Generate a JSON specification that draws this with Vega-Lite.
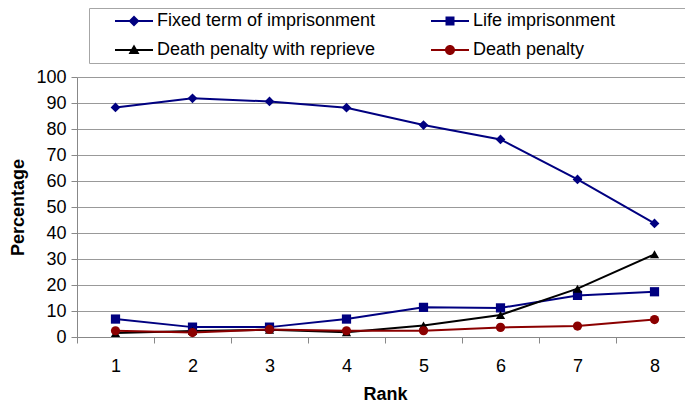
{
  "$schema": "https://vega.github.io/schema/vega-lite/v6.json",
  "width": 608,
  "height": 260,
  "autosize": {"type": "none"},
  "padding": {"left": 77, "top": 77, "right": 0, "bottom": 70},
  "background": "white",
  "config": {"font": "Liberation Sans", "view": {"stroke": null}},
  "data": {"values": [
    {"series": "Fixed term of imprisonment", "rank": 1, "pct": 88.3},
    {"series": "Fixed term of imprisonment", "rank": 2, "pct": 91.8},
    {"series": "Fixed term of imprisonment", "rank": 3, "pct": 90.6},
    {"series": "Fixed term of imprisonment", "rank": 4, "pct": 88.2},
    {"series": "Fixed term of imprisonment", "rank": 5, "pct": 81.5},
    {"series": "Fixed term of imprisonment", "rank": 6, "pct": 76.0},
    {"series": "Fixed term of imprisonment", "rank": 7, "pct": 60.6},
    {"series": "Fixed term of imprisonment", "rank": 8, "pct": 43.7},
    {"series": "Life imprisonment", "rank": 1, "pct": 6.9},
    {"series": "Life imprisonment", "rank": 2, "pct": 3.8},
    {"series": "Life imprisonment", "rank": 3, "pct": 3.8},
    {"series": "Life imprisonment", "rank": 4, "pct": 6.9},
    {"series": "Life imprisonment", "rank": 5, "pct": 11.4},
    {"series": "Life imprisonment", "rank": 6, "pct": 11.2},
    {"series": "Life imprisonment", "rank": 7, "pct": 16.0},
    {"series": "Life imprisonment", "rank": 8, "pct": 17.4},
    {"series": "Death penalty with reprieve", "rank": 1, "pct": 1.5},
    {"series": "Death penalty with reprieve", "rank": 2, "pct": 2.3},
    {"series": "Death penalty with reprieve", "rank": 3, "pct": 2.8},
    {"series": "Death penalty with reprieve", "rank": 4, "pct": 1.8},
    {"series": "Death penalty with reprieve", "rank": 5, "pct": 4.4},
    {"series": "Death penalty with reprieve", "rank": 6, "pct": 8.5},
    {"series": "Death penalty with reprieve", "rank": 7, "pct": 18.6},
    {"series": "Death penalty with reprieve", "rank": 8, "pct": 31.8},
    {"series": "Death penalty", "rank": 1, "pct": 2.4},
    {"series": "Death penalty", "rank": 2, "pct": 1.7},
    {"series": "Death penalty", "rank": 3, "pct": 2.9},
    {"series": "Death penalty", "rank": 4, "pct": 2.4},
    {"series": "Death penalty", "rank": 5, "pct": 2.4},
    {"series": "Death penalty", "rank": 6, "pct": 3.7},
    {"series": "Death penalty", "rank": 7, "pct": 4.2},
    {"series": "Death penalty", "rank": 8, "pct": 6.7}
  ]},
  "encoding": {
    "x": {
      "field": "rank", "type": "ordinal",
      "scale": {"type": "band", "range": [0, 616], "paddingInner": 0, "paddingOuter": 0},
      "axis": {
        "labelAngle": 0, "tickBand": "extent", "tickSize": 6, "tickColor": "#888888",
        "domainColor": "#888888", "labelFontSize": 18, "labelColor": "black", "labelPadding": 14,
        "grid": false, "title": "Rank", "titleFontSize": 18, "titleFontWeight": "bold",
        "titleColor": "black", "titlePadding": 10
      }
    },
    "y": {
      "field": "pct", "type": "quantitative",
      "scale": {"domain": [0, 100], "nice": false},
      "axis": {
        "values": [0, 10, 20, 30, 40, 50, 60, 70, 80, 90, 100],
        "tickSize": 6, "tickColor": "#888888", "domainColor": "#888888",
        "gridColor": "#999999", "labelFontSize": 18, "labelColor": "black", "labelPadding": 5,
        "title": "Percentage", "titleFontSize": 18, "titleFontWeight": "bold",
        "titleColor": "black", "titlePadding": 8
      }
    },
    "color": {
      "field": "series", "type": "nominal",
      "scale": {
        "domain": ["Fixed term of imprisonment", "Life imprisonment", "Death penalty with reprieve", "Death penalty"],
        "range": ["#000080", "#000080", "#000000", "#8B0000"]
      },
      "legend": {
        "orient": "none", "legendX": 12, "legendY": -69, "columns": 2, "direction": "horizontal",
        "title": null, "labelFontSize": 18, "labelColor": "black", "labelLimit": 400,
        "strokeColor": "#a6a6a6", "padding": 4, "symbolSize": 324, "symbolStrokeWidth": 0,
        "symbolOffset": 32, "labelOffset": 14, "columnPadding": 32, "rowPadding": 11,
        "encode": {
          "symbols": {
            "update": {
              "shape": {"signal": "(datum.value === 'Fixed term of imprisonment' ? 'M0,-0.611L0.611,0L0,0.611L-0.611,0Z' : datum.value === 'Life imprisonment' ? 'M-0.5,-0.5L0.5,-0.5L0.5,0.5L-0.5,0.5Z' : datum.value === 'Death penalty with reprieve' ? 'M0,-0.6L0.61,0.45L-0.61,0.45Z' : 'M0.556,0A0.556,0.556,0,1,1,-0.556,0A0.556,0.556,0,1,1,0.556,0Z') + 'M-2.111,-0.111L2.111,-0.111L2.111,0.111L-2.111,0.111ZM-4.556,0L-4.556,0.01ZM25.556,0L25.556,0.01Z'"},
              "size": {"value": 324},
              "fill": {"scale": "color", "field": "value"},
              "stroke": {"value": "transparent"},
              "strokeWidth": {"value": 0},
              "opacity": {"value": 1}
            }
          }
        }
      }
    }
  },
  "layer": [
    {"mark": {"type": "line", "strokeWidth": 2}},
    {"transform": [{"filter": "datum.series === 'Fixed term of imprisonment'"}], "mark": {"type": "point", "filled": true, "opacity": 1, "size": 95, "shape": "diamond"}},
    {"transform": [{"filter": "datum.series === 'Life imprisonment'"}], "mark": {"type": "point", "filled": true, "opacity": 1, "size": 85, "shape": "square"}},
    {"transform": [{"filter": "datum.series === 'Death penalty with reprieve'"}], "mark": {"type": "point", "filled": true, "opacity": 1, "size": 85, "shape": "triangle-up"}},
    {"transform": [{"filter": "datum.series === 'Death penalty'"}], "mark": {"type": "point", "filled": true, "opacity": 1, "size": 85, "shape": "circle"}}
  ]
}
